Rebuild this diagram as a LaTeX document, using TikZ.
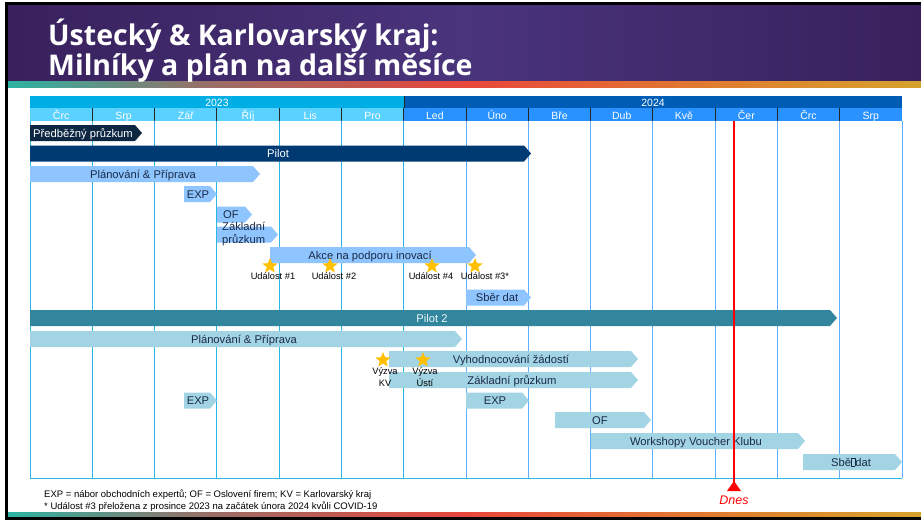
\documentclass[tikz,border=0pt]{standalone}
\usepackage{fontspec}
\setmainfont{Liberation Sans}
\newfontfamily\titlefont{Open Sans}
\usetikzlibrary{shapes.geometric}
\definecolor{hdrpurple}{HTML}{38215C}
\definecolor{hdrlight}{HTML}{4A347C}
\definecolor{stripteal}{HTML}{2DB3A2}
\definecolor{stripmix}{HTML}{9A6E66}
\definecolor{stripred}{HTML}{E8463B}
\definecolor{striporange}{HTML}{E07A30}
\definecolor{stripgold}{HTML}{D6A22C}
\definecolor{yearA}{HTML}{00AEE6}
\definecolor{yearB}{HTML}{005DB5}
\definecolor{monthA}{HTML}{5BD1FF}
\definecolor{monthB}{HTML}{2A92FF}
\definecolor{gridA}{HTML}{2BB7E6}
\definecolor{gridB}{HTML}{5FAEFF}
\definecolor{darknavy}{HTML}{0D2742}
\definecolor{pilotblue}{HTML}{003A72}
\definecolor{lightblue}{HTML}{8FC5FF}
\definecolor{pilotteal}{HTML}{31869E}
\definecolor{lightteal}{HTML}{A2D4E3}
\definecolor{bartextcol}{HTML}{1B2A48}
\definecolor{starcol}{HTML}{FFC000}
\pgfdeclarehorizontalshading{stripe}{100bp}{color(0bp)=(stripteal); color(25bp)=(stripteal); color(36bp)=(stripmix); color(50bp)=(stripred); color(63bp)=(striporange); color(75bp)=(stripgold); color(100bp)=(stripgold)}
\newcommand{\ganttbar}[4]{\fill[#4] (#1,#3) -- ({#2-7},#3) -- (#2,{#3+8}) -- ({#2-7},{#3+16}) -- (#1,{#3+16}) -- cycle;}
\begin{document}
\begin{tikzpicture}[x=1pt,y=-1pt,
  bartxt/.style={anchor=base, inner sep=0pt, font=\fontsize{11.2}{13}\selectfont, text=bartextcol},
  whitetxt/.style={bartxt, text=white},
  monthtxt/.style={anchor=base, inner sep=0pt, font=\fontsize{10.5}{12}\selectfont, text=white},
  evtxt/.style={anchor=base, inner sep=0pt, font=\fontsize{9.3}{11.5}\selectfont, align=center},
  evstar/.style={star, star points=5, star point ratio=2.3, fill=starcol, minimum size=16pt, inner sep=0pt}]
\useasboundingbox (0,0) rectangle (921,520);
\fill[black] (5,2) rectangle (921,520);
\fill[white] (8,5) rectangle (921,516);
\shade[left color=hdrpurple, right color=hdrpurple, middle color=hdrlight] (8,5) rectangle (921,81);
\shade[shading=stripe] (8,81) rectangle (921,87);
\shade[shading=stripe] (8,512) rectangle (921,516);
\node[anchor=base west, inner sep=0pt, text=white, font=\titlefont\bfseries\fontsize{28.5}{30}\selectfont] (title1) at (48,45) {Ústecký \& Karlovarský kraj:};
\node[anchor=base west, inner sep=0pt, text=white, font=\titlefont\bfseries\fontsize{28.5}{30}\selectfont] (title2) at (48,75) {Milníky a plán na další měsíce};

\fill[yearA] (30,96) rectangle (404,108);
\fill[yearB] (404,96) rectangle (902,108);
\fill[monthA] (30,108) rectangle (404,121);
\fill[monthB] (404,108) rectangle (902,121);
\node[monthtxt] (y2023) at (217,106) {2023};
\node[monthtxt] (y2024) at (653,106) {2024};
\foreach \i in {1,...,13}
  \draw[black!85, line width=0.9pt] ({30+\i*62.2857},108) -- ({30+\i*62.2857},121);
\draw[black!85, line width=0.9pt] (404,96) -- (404,108);
\foreach \m [count=\i from 0] in {Črc,Srp,Zář,Říj,Lis,Pro,Led,Úno,Bře,Dub,Kvě,Čer,Črc,Srp}
  \node[monthtxt] (m\i) at ({30+(\i+0.5)*62.2857},119) {\m};
\foreach \i in {0,...,6}
  \draw[gridA, line width=1pt] ({30+\i*62.2857},121) -- ({30+\i*62.2857},478);
\foreach \i in {7,...,14}
  \draw[gridB, line width=1pt] ({30+\i*62.2857},121) -- ({30+\i*62.2857},478);
\draw[gridA, line width=1pt] (30,478) -- (902,478);

\ganttbar{30}{142}{125}{darknavy}
\node[whitetxt, anchor=base west] (prelim) at (33,137) {Předběžný průzkum};
\ganttbar{30}{531}{145.5}{pilotblue}
\node[whitetxt] (pilot) at (278,157.5) {Pilot};
\ganttbar{30}{260}{166}{lightblue}
\node[bartxt] (plan1) at (143,178) {Plánování \& Příprava};
\ganttbar{184}{217}{186}{lightblue}
\node[bartxt] (exp1) at (198,198) {EXP};
\ganttbar{217}{252}{206.5}{lightblue}
\node[bartxt] (of1) at (231,218.5) {OF};
\ganttbar{217}{278}{226.5}{lightblue}
\node[bartxt, anchor=north west, align=left] (zakl1) at (222,222) {Základní\\průzkum};
\ganttbar{270}{476}{247}{lightblue}
\node[bartxt] (akce) at (370,259) {Akce na podporu inovací};
\node[evstar] (ev1) at (270,266) {};
\node[evstar] (ev2) at (330,266) {};
\node[evstar] (ev4) at (432,266) {};
\node[evstar] (ev3) at (475,266) {};
\node[evtxt] (ev1lbl) at (273,279) {Událost \#1};
\node[evtxt] (ev2lbl) at (334,279) {Událost \#2};
\node[evtxt] (ev4lbl) at (431,279) {Událost \#4};
\node[evtxt] (ev3lbl) at (485,279) {Událost \#3*};
\ganttbar{466}{531}{289.5}{lightblue}
\node[bartxt] (sber1) at (497,301.5) {Sběr dat};

\ganttbar{30}{837}{310}{pilotteal}
\node[whitetxt, text=white!92!pilotteal] (pilot2) at (432,322) {Pilot 2};
\ganttbar{30}{462}{331}{lightteal}
\node[bartxt] (plan2) at (244,343) {Plánování \& Příprava};
\ganttbar{389}{638}{351}{lightteal}
\node[bartxt] (vyhod) at (511,363) {Vyhodnocování žádostí};
\ganttbar{389}{638}{372}{lightteal}
\node[bartxt] (zakl2) at (512,384) {Základní průzkum};
\node[evstar] (vkv) at (383,360) {};
\node[evstar] (vusti) at (423,360) {};
\node[evtxt, anchor=north] (vkvlbl) at (385,367.5) {Výzva\\KV};
\node[evtxt, anchor=north] (vustilbl) at (425,367.5) {Výzva\\Ústí};
\ganttbar{184}{217}{392.5}{lightteal}
\node[bartxt] (exp2) at (198,404.5) {EXP};
\ganttbar{466}{529}{392.5}{lightteal}
\node[bartxt] (exp3) at (495,404.5) {EXP};
\ganttbar{555}{651}{412}{lightteal}
\node[bartxt] (of2) at (600,424) {OF};
\ganttbar{591}{805}{433}{lightteal}
\node[bartxt] (workshop) at (696,445) {Workshopy Voucher Klubu};
\ganttbar{803}{902}{454}{lightteal}
\node[bartxt] (sber2) at (851,466) {Sbě{\fboxsep=0pt\fboxrule=0.4pt\fbox{\rule{0pt}{7.5pt}\hspace{3.5pt}}}dat};

\draw[red, line width=2.5pt] (734,121) -- (734,484);
\fill[red] (727,491) -- (741,491) -- (734,481) -- cycle;
\node[anchor=base, inner sep=0pt, text=red, font=\itshape\fontsize{12.5}{14}\selectfont] (dnes) at (734,504) {Dnes};

\node[anchor=base west, inner sep=0pt, font=\fontsize{9.5}{12}\selectfont, align=left] (foot) at (44,509) {EXP = nábor obchodních expertů; OF = Oslovení firem; KV = Karlovarský kraj\\* Událost \#3 přeložena z prosince 2023 na začátek února 2024 kvůli COVID-19};
\end{tikzpicture}
\end{document}
